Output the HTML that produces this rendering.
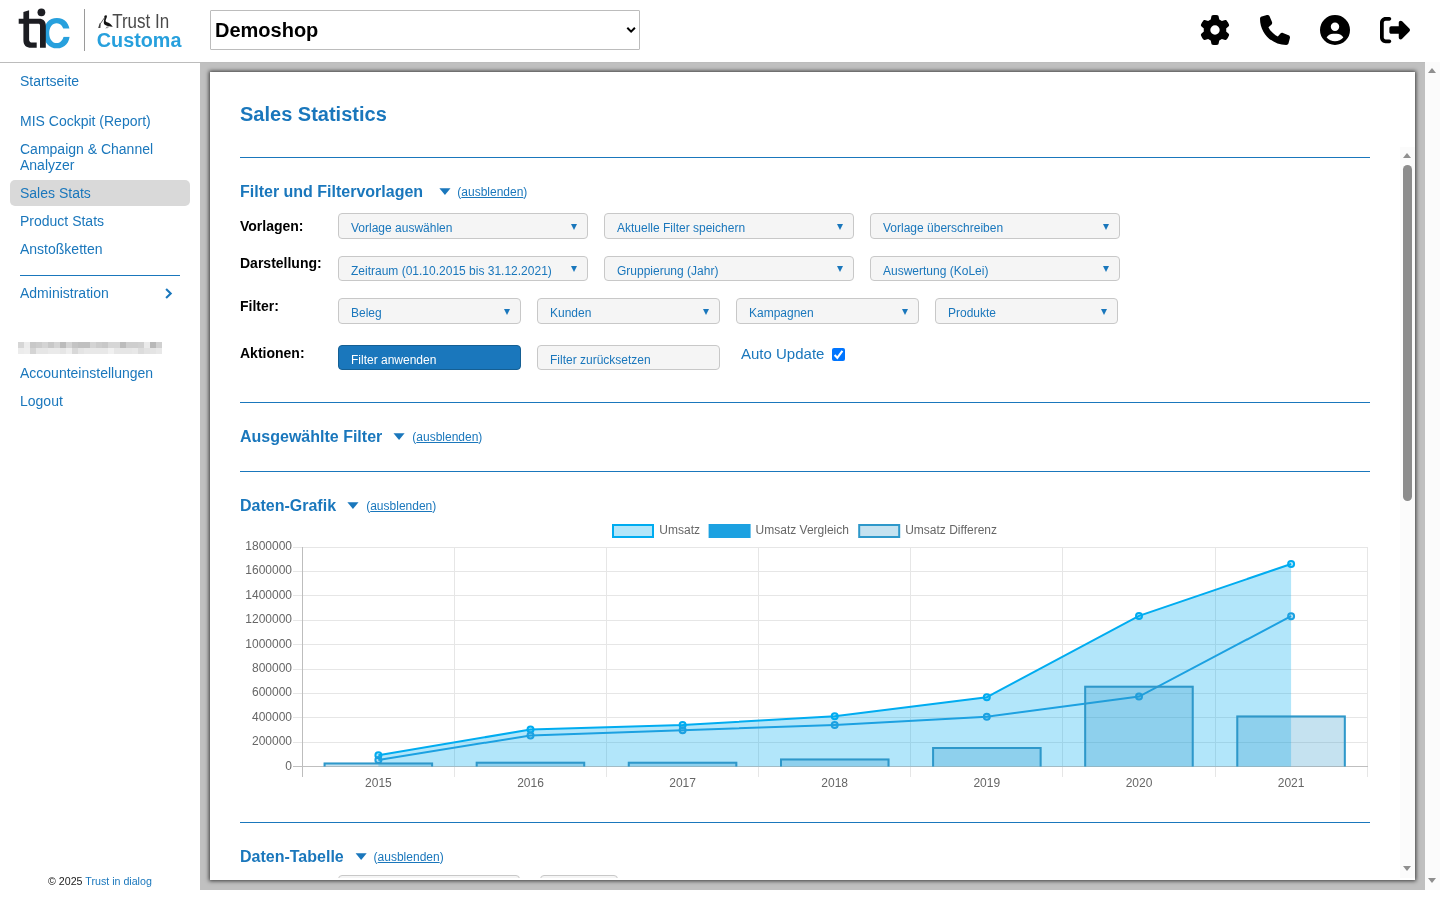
<!DOCTYPE html>
<html><head><meta charset="utf-8"><title>Sales Statistics</title>
<style>
*{box-sizing:border-box}
html,body{margin:0;padding:0}
body{width:1440px;height:900px;overflow:hidden;position:relative;background:#fff;font-family:"Liberation Sans",sans-serif;color:#000}
.a{position:absolute;white-space:nowrap}
#hdr{position:absolute;left:0;top:0;width:1440px;height:63px;border-bottom:1px solid #bcbcbc;background:#fff}
.nav{position:absolute;left:20px;font-size:14px;color:#1a77bc;line-height:16px}
#main{position:absolute;left:200px;top:63px;width:1225px;height:827px;background:#c0c0c0}
#panel{position:absolute;left:210px;top:72px;width:1205px;height:808px;background:#fff;box-shadow:0 0 4px 1px rgba(0,0,0,.7)}
.h2{position:absolute;left:240px;font-size:16px;font-weight:bold;color:#1a77bc;line-height:18px}
.hr{position:absolute;left:240px;width:1130px;height:1px;background:#1a77bc}
.tri{position:absolute;width:0;height:0;border-left:5.5px solid transparent;border-right:5.5px solid transparent;border-top:7px solid #1a77bc}
.aus{position:absolute;font-size:12px;color:#1a77bc;line-height:14px}
.aus u{text-decoration:underline;text-underline-offset:1px}
.lbl{position:absolute;left:240px;font-size:14px;font-weight:bold;line-height:16px}
.sel{position:absolute;height:26px;background:#f5f5f5;border:1px solid #c8c8c8;border-radius:4px;font-size:12px;color:#1a77bc;line-height:14px;padding:7px 0 0 12px;white-space:nowrap;overflow:hidden}
.sel i{position:absolute;right:10px;top:10px;width:0;height:0;border-left:3px solid transparent;border-right:3px solid transparent;border-top:6px solid #1a77bc}
.sb{position:absolute;background:#fbfbfb}
.up{position:absolute;width:0;height:0;border-left:4.5px solid transparent;border-right:4.5px solid transparent;border-bottom:5px solid #8f8f8f}
.dn{position:absolute;width:0;height:0;border-left:4.5px solid transparent;border-right:4.5px solid transparent;border-top:5px solid #8f8f8f}
</style></head>
<body><div id="wrap" style="position:absolute;left:0;top:0;width:1440px;height:900px;will-change:transform">
<!-- HEADER -->
<div id="hdr">
<!-- logo -->
<svg class="a" style="left:0;top:0" width="200" height="62" viewBox="0 0 200 62">
 <path fill="#27a0dd" fill-rule="evenodd" d="M56.90,18.00 C64.96,18.00 69.90,23.76 69.90,33.15 C69.90,42.54 64.96,48.30 56.90,48.30 C48.84,48.30 43.90,42.54 43.90,33.15 C43.90,23.76 48.84,18.00 56.90,18.00Z M56.60,23.30 C60.89,23.30 64.00,27.46 64.00,33.20 C64.00,38.94 60.89,43.10 56.60,43.10 C52.31,43.10 49.20,38.94 49.20,33.20 C49.20,27.46 52.31,23.30 56.60,23.30Z"/>
 <rect x="60" y="28.5" width="11" height="8.4" fill="#fff"/>
 <g fill="#1c1d22">
  <path d="M23.4,12 L29.1,10.2 V39.5 C29.1,41.6 30.2,42.6 32.2,42.6 H36.7 V47.8 H31.2 C26.2,47.8 23.4,45.2 23.4,40.2 Z"/>
  <path d="M18.7,18.8 H39.2 C43.2,18.8 45.8,21.4 45.8,25.4 V47.8 H40 V25.4 C40,24.3 39.4,23.8 38.4,23.8 H18.7 Z"/>
  <circle cx="41.4" cy="12.3" r="3.9"/>
 </g>
 <rect x="84" y="9" width="1" height="42" fill="#9a9a9a"/>
 <path d="M104.6,15.8 C105.5,14.8 107,15 106.9,16.5 C106.8,18 105.8,19 105.6,20.5 C105.5,21.5 106.5,22 108,22.6 C110,23.5 111.5,25 112.8,26.8 C111,26.6 109.5,26 108,25.9 C106.5,25.8 104.8,25.4 104,23.8 C103.5,22.5 104,21 104.2,19.5 C104.4,18 104,16.8 104.6,15.8Z" fill="#111"/>
 <path d="M105,17 L100.2,24" stroke="#666" stroke-width="1"/>
 <path d="M99.6,23.2 L98.2,27.9 L100.4,27.9 L100.7,24 Z" fill="#444"/>
 <path d="M105.8,28.3 L107.5,26.3 M106.8,28.2 L109,26.5" stroke="#777" stroke-width="0.8"/>
 <text x="112.2" y="28.1" font-family="Liberation Sans" font-size="19.6" fill="#4a4a4a" textLength="57" lengthAdjust="spacingAndGlyphs">Trust In</text>
 <text x="96.8" y="46.9" font-family="Liberation Sans" font-size="20" font-weight="bold" fill="#27a0dd" textLength="84.6" lengthAdjust="spacingAndGlyphs">Customa</text>
</svg>
<!-- shop select -->
<div class="a" style="left:210px;top:10px;width:430px;height:40px;border:1px solid #bcbcbc;border-radius:1px;background:#fff"></div>
<div class="a" style="left:215px;top:19px;font-size:20px;font-weight:bold;line-height:23px">Demoshop</div>
<svg class="a" style="left:624px;top:25px" width="14" height="10" viewBox="0 0 14 10"><path d="M3.3,2.8 L7.1,6.6 L10.9,2.8" fill="none" stroke="#000" stroke-width="2"/></svg>
<!-- icons -->
<svg class="a" style="left:1200px;top:14.5px" width="30" height="30" viewBox="0 0 512 512"><path d="M495.9 166.6c3.2 8.7 .5 18.4-6.4 24.6l-43.3 39.4c1.1 8.3 1.7 16.8 1.7 25.4s-.6 17.1-1.7 25.4l43.3 39.4c6.9 6.2 9.6 15.9 6.4 24.6c-4.4 11.9-9.7 23.3-15.8 34.3l-4.7 8.1c-6.6 11-14 21.4-22.1 31.2c-5.9 7.2-15.7 9.6-24.5 6.8l-55.7-17.7c-13.4 10.3-28.2 18.9-44 25.4l-12.5 57.1c-2 9.1-9 16.3-18.2 17.8c-13.8 2.3-28 3.5-42.5 3.5s-28.7-1.2-42.5-3.5c-9.2-1.5-16.2-8.7-18.2-17.8l-12.5-57.1c-15.8-6.5-30.6-15.1-44-25.4L83.1 425.9c-8.8 2.8-18.6 .3-24.5-6.8c-8.1-9.8-15.5-20.2-22.1-31.2l-4.7-8.1c-6.1-11-11.4-22.4-15.8-34.3c-3.2-8.7-.5-18.4 6.4-24.6l43.3-39.4C64.6 273.1 64 264.6 64 256s.6-17.1 1.7-25.4L22.4 191.2c-6.9-6.2-9.6-15.900-6.4-24.6c4.4-11.9 9.7-23.3 15.8-34.3l4.7-8.1c6.6-11 14-21.4 22.1-31.2c5.9-7.2 15.7-9.6 24.5-6.8l55.7 17.7c13.4-10.3 28.2-18.9 44-25.4l12.5-57.1c2-9.1 9-16.3 18.2-17.8C227.300 1.2 241.5 0 256 0s28.7 1.2 42.5 3.5c9.2 1.5 16.2 8.7 18.2 17.8l12.5 57.1c15.8 6.5 30.6 15.1 44 25.4l55.7-17.7c8.8-2.8 18.6-.3 24.5 6.8c8.1 9.8 15.5 20.2 22.1 31.2l4.7 8.1c6.1 11 11.4 22.4 15.8 34.3zM256 336a80 80 0 1 0 0-160 80 80 0 1 0 0 160z"/></svg>
<svg class="a" style="left:1260px;top:14.5px" width="30" height="30" viewBox="0 0 512 512"><path d="M164.9 24.6c-7.7-18.6-28-28.5-47.4-23.2l-88 24C12.1 30.2 0 46 0 64C0 311.4 200.6 512 448 512c18 0 33.8-12.1 38.6-29.5l24-88c5.3-19.4-4.6-39.7-23.2-47.4l-96-40c-16.3-6.8-35.200-2.1-46.3 11.6L304.7 368C234.3 334.7 177.3 277.7 144 207.3L193.3 167c13.7-11.2 18.4-30 11.6-46.3l-40-96z"/></svg>
<svg class="a" style="left:1320px;top:14.5px" width="30" height="30" viewBox="0 0 512 512"><path d="M399 384.2C376.9 345.8 335.4 320 288 320H224c-47.4 0-88.9 25.8-111 64.2c35.2 39.2 86.2 63.8 143 63.8s107.8-24.7 143-63.8zM0 256a256 256 0 1 1 512 0A256 256 0 1 1 0 256zm256 16a72 72 0 1 0 0-144 72 72 0 1 0 0 144z"/></svg>
<svg class="a" style="left:1380px;top:14.5px" width="30" height="30" viewBox="0 0 512 512"><path d="M377.9 105.9L500.7 228.7c7.2 7.2 11.3 17.1 11.3 27.3s-4.1 20.1-11.3 27.3L377.9 406.1c-6.4 6.4-15 9.9-24 9.9c-18.7 0-33.9-15.2-33.9-33.9l0-62.1-128 0c-17.7 0-32-14.3-32-32l0-64c0-17.7 14.3-32 32-32l128 0 0-62.1c0-18.7 15.2-33.9 33.9-33.9c9 0 17.6 3.6 24 9.9zM160 96L96 96c-17.7 0-32 14.300-32 32l0 256c0 17.7 14.3 32 32 32l64 0c17.7 0 32 14.3 32 32s-14.3 32-32 32l-64 0c-53 0-96-43-96-96L0 128C0 75 43 32 96 32l64 0c17.7 0 32 14.3 32 32s-14.3 32-32 32z"/></svg>
</div>

<!-- SIDEBAR -->
<div class="a" style="left:10px;top:180px;width:180px;height:26px;background:#d9d9d9;border-radius:5px"></div>
<div class="nav a" style="top:73px">Startseite</div>
<div class="nav a" style="top:113px">MIS Cockpit (Report)</div>
<div class="nav a" style="top:141px">Campaign &amp; Channel<br>Analyzer</div>
<div class="nav a" style="top:185px">Sales Stats</div>
<div class="nav a" style="top:213px">Product Stats</div>
<div class="nav a" style="top:241px">Anstoßketten</div>
<div class="a" style="left:20px;top:275px;width:160px;height:1px;background:#1a77bc"></div>
<div class="nav a" style="top:285px">Administration</div>
<svg class="a" style="left:164px;top:287px" width="10" height="12" viewBox="0 0 10 12"><path d="M2.1,1.9 L6.7,6.4 L2.1,10.9" fill="none" stroke="#1a77bc" stroke-width="2.1"/></svg>
<svg class="a" style="left:18px;top:342px" width="144" height="12" viewBox="0 0 144 12" shape-rendering="crispEdges"><rect x="0" y="0" width="6" height="6" fill="#d6d6d6"/><rect x="0" y="6" width="6" height="6" fill="#ececec"/><rect x="6" y="0" width="6" height="6" fill="#ececec"/><rect x="6" y="6" width="6" height="6" fill="#eeeeee"/><rect x="12" y="0" width="6" height="6" fill="#c8c8c8"/><rect x="12" y="6" width="6" height="6" fill="#d4d4d4"/><rect x="18" y="0" width="6" height="6" fill="#cccccc"/><rect x="18" y="6" width="6" height="6" fill="#e6e6e6"/><rect x="24" y="0" width="6" height="6" fill="#d4d4d4"/><rect x="24" y="6" width="6" height="6" fill="#e6e6e6"/><rect x="30" y="0" width="6" height="6" fill="#c8c8c8"/><rect x="30" y="6" width="6" height="6" fill="#eaeaea"/><rect x="36" y="0" width="6" height="6" fill="#d4d4d4"/><rect x="36" y="6" width="6" height="6" fill="#eaeaea"/><rect x="42" y="0" width="6" height="6" fill="#bcbcbc"/><rect x="42" y="6" width="6" height="6" fill="#e6e6e6"/><rect x="48" y="0" width="6" height="6" fill="#d4d4d4"/><rect x="48" y="6" width="6" height="6" fill="#eeeeee"/><rect x="54" y="0" width="6" height="6" fill="#c4c4c4"/><rect x="54" y="6" width="6" height="6" fill="#d8d8d8"/><rect x="60" y="0" width="6" height="6" fill="#c0c0c0"/><rect x="60" y="6" width="6" height="6" fill="#e4e4e4"/><rect x="66" y="0" width="6" height="6" fill="#c0c0c0"/><rect x="66" y="6" width="6" height="6" fill="#e8e8e8"/><rect x="72" y="0" width="6" height="6" fill="#d4d4d4"/><rect x="72" y="6" width="6" height="6" fill="#e8e8e8"/><rect x="78" y="0" width="6" height="6" fill="#cccccc"/><rect x="78" y="6" width="6" height="6" fill="#e8e8e8"/><rect x="84" y="0" width="6" height="6" fill="#c8c8c8"/><rect x="84" y="6" width="6" height="6" fill="#e8e8e8"/><rect x="90" y="0" width="6" height="6" fill="#d6d6d6"/><rect x="90" y="6" width="6" height="6" fill="#f0f0f0"/><rect x="96" y="0" width="6" height="6" fill="#d6d6d6"/><rect x="96" y="6" width="6" height="6" fill="#e6e6e6"/><rect x="102" y="0" width="6" height="6" fill="#bcbcbc"/><rect x="102" y="6" width="6" height="6" fill="#e6e6e6"/><rect x="108" y="0" width="6" height="6" fill="#cecece"/><rect x="108" y="6" width="6" height="6" fill="#e6e6e6"/><rect x="114" y="0" width="6" height="6" fill="#cecece"/><rect x="114" y="6" width="6" height="6" fill="#e8e8e8"/><rect x="120" y="0" width="6" height="6" fill="#d0d0d0"/><rect x="120" y="6" width="6" height="6" fill="#dcdcdc"/><rect x="126" y="0" width="6" height="6" fill="#eaeaea"/><rect x="126" y="6" width="6" height="6" fill="#e2e2e2"/><rect x="132" y="0" width="6" height="6" fill="#b8b8b8"/><rect x="132" y="6" width="6" height="6" fill="#e4e4e4"/><rect x="138" y="0" width="6" height="6" fill="#d0d0d0"/><rect x="138" y="6" width="6" height="6" fill="#e8e8e8"/></svg>
<div class="nav a" style="top:365px">Accounteinstellungen</div>
<div class="nav a" style="top:393px">Logout</div>
<div class="a" style="left:48px;top:875px;font-size:10.67px;line-height:12px;color:#222">© 2025 <span style="color:#1a77bc">Trust in dialog</span></div>


<!-- MAIN -->
<div id="main"></div>
<div id="panel"></div>
<div class="a" style="left:240px;top:103px;font-size:20px;font-weight:bold;color:#1a77bc;line-height:23px">Sales Statistics</div>
<div class="hr" style="top:157px"></div>
<div class="hr" style="top:402px"></div>
<div class="hr" style="top:471px"></div>
<div class="hr" style="top:822px"></div>
<div class="h2 a" style="top:183px">Filter und Filtervorlagen</div>
<svg class="a" style="left:0;top:0;overflow:visible" width="1" height="1"><polygon points="439.4,188.3 450.5,188.3 444.95,195.1" fill="#1a77bc"/></svg>
<div class="aus a" style="left:457.3px;top:185px">(<u>ausblenden</u>)</div>
<div class="h2 a" style="top:428px">Ausgewählte Filter</div>
<svg class="a" style="left:0;top:0;overflow:visible" width="1" height="1"><polygon points="393.5,433.3 404.6,433.3 399.05,440.1" fill="#1a77bc"/></svg>
<div class="aus a" style="left:412.3px;top:430px">(<u>ausblenden</u>)</div>
<div class="h2 a" style="top:497px">Daten-Grafik</div>
<svg class="a" style="left:0;top:0;overflow:visible" width="1" height="1"><polygon points="347.4,502.3 358.5,502.3 352.95,509.1" fill="#1a77bc"/></svg>
<div class="aus a" style="left:366.2px;top:499px">(<u>ausblenden</u>)</div>
<div class="h2 a" style="top:848px">Daten-Tabelle</div>
<svg class="a" style="left:0;top:0;overflow:visible" width="1" height="1"><polygon points="355.6,853.3 366.7,853.3 361.15,860.1" fill="#1a77bc"/></svg>
<div class="aus a" style="left:373.6px;top:850px">(<u>ausblenden</u>)</div>
<div class="lbl a" style="top:218px">Vorlagen:</div>
<div class="lbl a" style="top:255px">Darstellung:</div>
<div class="lbl a" style="top:298px">Filter:</div>
<div class="lbl a" style="top:345px">Aktionen:</div>
<div class="sel" style="left:338px;top:213px;width:250px;height:26px">Vorlage auswählen<i></i></div>
<div class="sel" style="left:604px;top:213px;width:250px;height:26px">Aktuelle Filter speichern<i></i></div>
<div class="sel" style="left:870px;top:213px;width:250px;height:26px">Vorlage überschreiben<i></i></div>
<div class="sel" style="left:338px;top:256px;width:250px;height:25px">Zeitraum (01.10.2015 bis 31.12.2021)<i style="top:9.3px"></i></div>
<div class="sel" style="left:604px;top:256px;width:250px;height:25px">Gruppierung (Jahr)<i style="top:9.3px"></i></div>
<div class="sel" style="left:870px;top:256px;width:250px;height:25px">Auswertung (KoLei)<i style="top:9.3px"></i></div>
<div class="sel" style="left:338px;top:298px;width:183px;height:26px">Beleg<i></i></div>
<div class="sel" style="left:537px;top:298px;width:183px;height:26px">Kunden<i></i></div>
<div class="sel" style="left:736px;top:298px;width:183px;height:26px">Kampagnen<i></i></div>
<div class="sel" style="left:935px;top:298px;width:183px;height:26px">Produkte<i></i></div>
<div class="sel" style="left:338px;top:345px;width:183px;height:25px;background:#1a77bc;border-color:#155f93;color:#fff">Filter anwenden</div>
<div class="sel" style="left:537px;top:345px;width:183px;height:25px">Filter zurücksetzen</div>
<div class="a" style="left:741px;top:345px;font-size:15px;line-height:17px;color:#1a77bc">Auto Update</div>
<svg class="a" style="left:832px;top:348px" width="13" height="13" viewBox="0 0 13 13"><rect x="0" y="0" width="13" height="13" rx="2" fill="#0075ff"/><path d="M2.6,7.1 L5.3,9.8 L10.4,2.9" fill="none" stroke="#fff" stroke-width="2.1"/></svg>
<div class="a" style="left:330px;top:870px;width:300px;height:8px;overflow:hidden"><div class="a" style="left:8px;top:5px;width:182px;height:20px;border:1px solid #c8c8c8;border-radius:4px;background:#f5f5f5"></div><div class="a" style="left:210px;top:5px;width:78px;height:20px;border:1px solid #c8c8c8;border-radius:4px;background:#f5f5f5"></div></div>
<svg class="a" style="left:230px;top:515px" width="1150" height="285" viewBox="230 515 1150 285" font-family="Liberation Sans" font-size="12">
<line x1="293" x2="1368" y1="547.5" y2="547.5" stroke="#e6e6e6" stroke-width="1"/>
<line x1="293" x2="1368" y1="571.5" y2="571.5" stroke="#e6e6e6" stroke-width="1"/>
<line x1="293" x2="1368" y1="595.5" y2="595.5" stroke="#e6e6e6" stroke-width="1"/>
<line x1="293" x2="1368" y1="620.5" y2="620.5" stroke="#e6e6e6" stroke-width="1"/>
<line x1="293" x2="1368" y1="644.5" y2="644.5" stroke="#e6e6e6" stroke-width="1"/>
<line x1="293" x2="1368" y1="669.5" y2="669.5" stroke="#e6e6e6" stroke-width="1"/>
<line x1="293" x2="1368" y1="693.5" y2="693.5" stroke="#e6e6e6" stroke-width="1"/>
<line x1="293" x2="1368" y1="717.5" y2="717.5" stroke="#e6e6e6" stroke-width="1"/>
<line x1="293" x2="1368" y1="742.5" y2="742.5" stroke="#e6e6e6" stroke-width="1"/>
<text x="292" y="549.8" text-anchor="end" fill="#666">1800000</text>
<text x="292" y="574.2" text-anchor="end" fill="#666">1600000</text>
<text x="292" y="598.6" text-anchor="end" fill="#666">1400000</text>
<text x="292" y="623.1" text-anchor="end" fill="#666">1200000</text>
<text x="292" y="647.5" text-anchor="end" fill="#666">1000000</text>
<text x="292" y="671.9" text-anchor="end" fill="#666">800000</text>
<text x="292" y="696.3" text-anchor="end" fill="#666">600000</text>
<text x="292" y="720.7" text-anchor="end" fill="#666">400000</text>
<text x="292" y="745.2" text-anchor="end" fill="#666">200000</text>
<text x="292" y="769.6" text-anchor="end" fill="#666">0</text>
<line x1="302.5" x2="302.5" y1="547" y2="777" stroke="#bdbdbd" stroke-width="1"/>
<line x1="454.5" x2="454.5" y1="547" y2="777" stroke="#e6e6e6" stroke-width="1"/>
<line x1="606.5" x2="606.5" y1="547" y2="777" stroke="#e6e6e6" stroke-width="1"/>
<line x1="758.5" x2="758.5" y1="547" y2="777" stroke="#e6e6e6" stroke-width="1"/>
<line x1="910.5" x2="910.5" y1="547" y2="777" stroke="#e6e6e6" stroke-width="1"/>
<line x1="1062.5" x2="1062.5" y1="547" y2="777" stroke="#e6e6e6" stroke-width="1"/>
<line x1="1215.5" x2="1215.5" y1="547" y2="777" stroke="#e6e6e6" stroke-width="1"/>
<line x1="1367.5" x2="1367.5" y1="547" y2="777" stroke="#e6e6e6" stroke-width="1"/>
<line x1="293" x2="1368" y1="766.5" y2="766.5" stroke="#bfbfbf" stroke-width="1"/>
<text x="378.4" y="786.6" text-anchor="middle" fill="#666">2015</text>
<text x="530.5" y="786.6" text-anchor="middle" fill="#666">2016</text>
<text x="682.6" y="786.6" text-anchor="middle" fill="#666">2017</text>
<text x="834.7" y="786.6" text-anchor="middle" fill="#666">2018</text>
<text x="986.8" y="786.6" text-anchor="middle" fill="#666">2019</text>
<text x="1139.0" y="786.6" text-anchor="middle" fill="#666">2020</text>
<text x="1291.1" y="786.6" text-anchor="middle" fill="#666">2021</text>
<polygon points="378.4,766.5 378.4,755.3 530.5,729.5 682.6,725.0 834.7,716.3 986.8,697.2 1139.0,615.9 1291.1,564.0 1291.1,766.5" fill="rgba(0,172,240,0.3)"/>
<polyline points="378.4,755.3 530.5,729.5 682.6,725.0 834.7,716.3 986.8,697.2 1139.0,615.9 1291.1,564.0" fill="none" stroke="#00acf0" stroke-width="2"/>
<circle cx="378.4" cy="755.3" r="3" fill="rgba(0,172,240,0.3)" stroke="#00acf0" stroke-width="2"/>
<circle cx="530.5" cy="729.5" r="3" fill="rgba(0,172,240,0.3)" stroke="#00acf0" stroke-width="2"/>
<circle cx="682.6" cy="725.0" r="3" fill="rgba(0,172,240,0.3)" stroke="#00acf0" stroke-width="2"/>
<circle cx="834.7" cy="716.3" r="3" fill="rgba(0,172,240,0.3)" stroke="#00acf0" stroke-width="2"/>
<circle cx="986.8" cy="697.2" r="3" fill="rgba(0,172,240,0.3)" stroke="#00acf0" stroke-width="2"/>
<circle cx="1139.0" cy="615.9" r="3" fill="rgba(0,172,240,0.3)" stroke="#00acf0" stroke-width="2"/>
<circle cx="1291.1" cy="564.0" r="3" fill="rgba(0,172,240,0.3)" stroke="#00acf0" stroke-width="2"/>
<polyline points="378.4,760.0 530.5,735.4 682.6,730.3 834.7,724.9 986.8,716.7 1139.0,696.6 1291.1,616.2" fill="none" stroke="#1ca1e1" stroke-width="2"/>
<circle cx="378.4" cy="760.0" r="3" fill="#1ca1e1" fill-opacity="0.3" stroke="#1ca1e1" stroke-width="2"/>
<circle cx="530.5" cy="735.4" r="3" fill="#1ca1e1" fill-opacity="0.3" stroke="#1ca1e1" stroke-width="2"/>
<circle cx="682.6" cy="730.3" r="3" fill="#1ca1e1" fill-opacity="0.3" stroke="#1ca1e1" stroke-width="2"/>
<circle cx="834.7" cy="724.9" r="3" fill="#1ca1e1" fill-opacity="0.3" stroke="#1ca1e1" stroke-width="2"/>
<circle cx="986.8" cy="716.7" r="3" fill="#1ca1e1" fill-opacity="0.3" stroke="#1ca1e1" stroke-width="2"/>
<circle cx="1139.0" cy="696.6" r="3" fill="#1ca1e1" fill-opacity="0.3" stroke="#1ca1e1" stroke-width="2"/>
<circle cx="1291.1" cy="616.2" r="3" fill="#1ca1e1" fill-opacity="0.3" stroke="#1ca1e1" stroke-width="2"/>
<rect x="323.6" y="762.6" width="109.5" height="3.9" fill="rgba(46,152,202,0.28)"/><path d="M324.6,766.5 V763.6 H432.1 V766.5" fill="none" stroke="#2e98ca" stroke-width="2"/>
<rect x="475.7" y="761.7" width="109.5" height="4.8" fill="rgba(46,152,202,0.28)"/><path d="M476.7,766.5 V762.7 H584.2 V766.5" fill="none" stroke="#2e98ca" stroke-width="2"/>
<rect x="627.8" y="761.8" width="109.5" height="4.7" fill="rgba(46,152,202,0.28)"/><path d="M628.8,766.5 V762.8 H736.3 V766.5" fill="none" stroke="#2e98ca" stroke-width="2"/>
<rect x="780.0" y="758.5" width="109.5" height="8.0" fill="rgba(46,152,202,0.28)"/><path d="M781.0,766.5 V759.5 H888.5 V766.5" fill="none" stroke="#2e98ca" stroke-width="2"/>
<rect x="932.1" y="747.0" width="109.5" height="19.5" fill="rgba(46,152,202,0.28)"/><path d="M933.1,766.5 V748.0 H1040.6 V766.5" fill="none" stroke="#2e98ca" stroke-width="2"/>
<rect x="1084.2" y="685.7" width="109.5" height="80.8" fill="rgba(46,152,202,0.28)"/><path d="M1085.2,766.5 V686.7 H1192.7 V766.5" fill="none" stroke="#2e98ca" stroke-width="2"/>
<rect x="1236.3" y="715.4" width="109.5" height="51.1" fill="rgba(46,152,202,0.28)"/><path d="M1237.3,766.5 V716.4 H1344.8 V766.5" fill="none" stroke="#2e98ca" stroke-width="2"/>
<rect x="613" y="525" width="40" height="12" fill="rgba(0,172,240,0.3)" stroke="#00acf0" stroke-width="2"/>
<text x="659.3" y="534" fill="#666">Umsatz</text>
<rect x="709.6" y="525" width="40" height="12" fill="#1ca1e1" stroke="#1ca1e1" stroke-width="2"/>
<text x="755.6" y="534" fill="#666">Umsatz Vergleich</text>
<rect x="859.2" y="525" width="40" height="12" fill="rgba(46,152,202,0.28)" stroke="#2e98ca" stroke-width="2"/>
<text x="905.2" y="534" fill="#666">Umsatz Differenz</text>
</svg>
<div class="sb" style="left:1425px;top:62px;width:15px;height:828px"></div>
<div class="up" style="left:1428px;top:68px"></div>
<div class="dn" style="left:1428px;top:878px"></div>
<div class="sb" style="left:1400px;top:147px;width:15px;height:731px"></div>
<div class="up" style="left:1403px;top:153px"></div>
<div class="dn" style="left:1403px;top:866px"></div>
<div class="a" style="left:1403px;top:165px;width:9px;height:336px;border-radius:4.5px;background:#8c8c8c"></div>


</div></body></html>
